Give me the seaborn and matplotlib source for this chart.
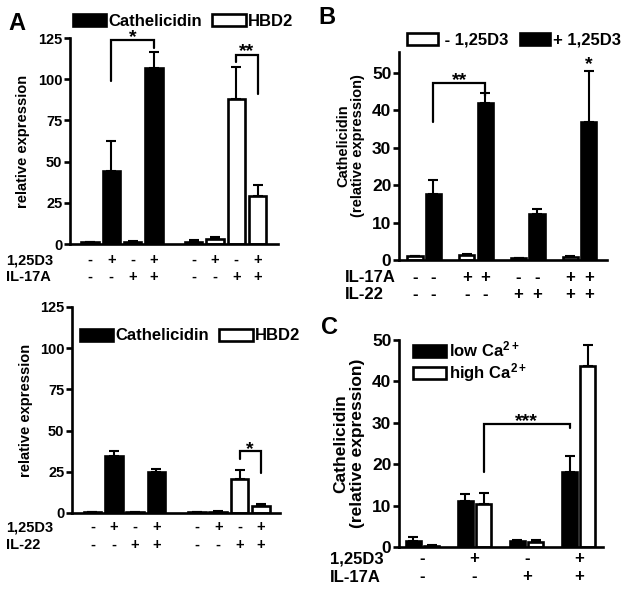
import numpy as np
import pandas as pd
import matplotlib
matplotlib.use("Agg")
import matplotlib.pyplot as plt
import seaborn as sns
from matplotlib.patches import Patch
from matplotlib.transforms import blended_transform_factory

# ---------------- data ----------------
a1_cath = [1.0, 44.0, 1.5, 107.0]
a1_cath_err = [0.3, 18.6, 0.3, 9.5]
a1_hbd2 = [1.5, 3.0, 88.0, 29.0]
a1_hbd2_err = [1.0, 1.5, 19.5, 7.0]
a1_d3 = ["-", "+", "-", "+", "-", "+", "-", "+"]
a1_il17a = ["-", "-", "+", "+", "-", "-", "+", "+"]

a2_cath = [0.6, 34.5, 0.4, 24.8]
a2_cath_err = [0.2, 3.3, 0.2, 2.0]
a2_hbd2 = [0.6, 0.6, 20.8, 4.5]
a2_hbd2_err = [0.2, 0.4, 5.3, 1.2]
a2_d3 = ["-", "+", "-", "+", "-", "+", "-", "+"]
a2_il22 = ["-", "-", "+", "+", "-", "-", "+", "+"]

b_minus = [1.0, 1.3, 0.5, 0.8]
b_minus_err = [0.2, 0.2, 0.1, 0.2]
b_plus = [17.6, 41.8, 12.3, 36.7]
b_plus_err = [3.8, 2.7, 1.2, 13.8]
b_il17a = ["-", "-", "+", "+", "-", "-", "+", "+"]
b_il22 = ["-", "-", "-", "-", "+", "+", "+", "+"]

c_low = [1.5, 11.2, 1.4, 18.2]
c_low_err = [0.8, 1.7, 0.2, 3.8]
c_high = [0.3, 10.5, 1.2, 43.6]
c_high_err = [0.1, 2.5, 0.4, 5.2]
c_d3 = ["-", "+", "-", "+"]
c_il17a = ["-", "-", "+", "+"]

# ---------------- style ----------------
sns.set_style("ticks")
plt.rcParams["font.family"] = ["Liberation Sans", "DejaVu Sans"]
plt.rcParams["font.weight"] = "bold"
plt.rcParams["mathtext.fontset"] = "custom"
plt.rcParams["mathtext.rm"] = "Liberation Sans:bold"
plt.rcParams["mathtext.bf"] = "Liberation Sans:bold"
plt.rcParams["mathtext.it"] = "Liberation Sans:bold"
for k in ["text.color", "axes.labelcolor", "xtick.color", "ytick.color", "axes.edgecolor"]:
    plt.rcParams[k] = "black"

W, H = 629, 592
fig = plt.figure(figsize=(W / 100, H / 100), dpi=100)
fig.patch.set_facecolor("white")

LW = 1.9


def px_axes(l, t, r, b):
    return fig.add_axes([l / W, 1 - b / H, (r - l) / W, (b - t) / H])


def fy(ypx):
    return 1 - ypx / H


def draw_bars(ax, pos, vals, errs, series, palette, width):
    df = pd.DataFrame({"pos": pos, "val": vals, "series": series})
    sns.barplot(data=df, x="pos", y="val", hue="series", palette=palette,
                native_scale=True, dodge=False, width=width, edgecolor="black",
                linewidth=LW, errorbar=None, legend=False, ax=ax, orient="x",
                saturation=1)
    ax.errorbar(df["pos"], df["val"], yerr=[np.zeros(len(df)), errs], fmt="none",
                ecolor="black", elinewidth=1.5, capsize=3.5, capthick=1.5, zorder=3)


def style(ax, xlim, ylim, yticks, fs):
    ax.set_xlim(*xlim)
    ax.set_ylim(*ylim)
    ax.set_yticks(yticks)
    ax.set_xticks([])
    ax.set_xlabel("")
    ax.set_facecolor("white")
    for s in ["top", "right"]:
        ax.spines[s].set_visible(False)
    for s in ["left", "bottom"]:
        ax.spines[s].set_linewidth(LW)
        ax.spines[s].set_color("black")
    ax.tick_params(axis="y", direction="out", length=4.5, width=LW, left=True,
                   pad=1, labelsize=fs, color="black")
    for lab in ax.get_yticklabels():
        lab.set_fontweight("bold")


def bracket(ax, x1, x2, ytop, yl, yr):
    ax.plot([x1, x1, x2, x2], [yl, ytop, ytop, yr], color="black", lw=1.6,
            solid_joinstyle="miter", clip_on=False, zorder=4)


def stars(ax, x, y, s, drop_px=4.3):
    # place so that the visible glyph centre sits at y (data units)
    off = ax.transData.inverted().transform((0, 0))[1] - ax.transData.inverted().transform((0, drop_px))[1]
    ax.text(x, y + off, s, ha="center", va="center", fontsize=14, clip_on=False)


def conditions(ax, xs, labels, ypx, fs):
    tr = blended_transform_factory(ax.transData, fig.transFigure)
    for x, s in zip(xs, labels):
        ax.text(x, fy(ypx), s, transform=tr, ha="center", va="center",
                fontsize=fs, fontweight="bold")


def row_label(xpx, ypx, s, fs):
    fig.text(xpx / W, fy(ypx), s, ha="left", va="center", fontsize=fs, fontweight="bold")


BW = 0.82

# ---------------- Panel A (top) ----------------
ax = px_axes(70, 38, 278, 244)
pal_a = {"Cathelicidin": "black", "HBD2": "white"}
pos_a = [0, 1, 2, 3] + [4.87 + i for i in range(4)]
draw_bars(ax, pos_a, a1_cath + a1_hbd2, a1_cath_err + a1_hbd2_err,
          ["Cathelicidin"] * 4 + ["HBD2"] * 4, pal_a, BW)
style(ax, (-0.94, 8.83), (0, 125), [0, 25, 50, 75, 100, 125], 10.5)
ax.set_ylabel("relative expression", fontsize=10.5, fontweight="bold")
ax.yaxis.set_label_coords(-0.19, 0.5)
bracket(ax, pos_a[1], pos_a[3], 124, 99, 119)
stars(ax, (pos_a[1] + pos_a[3]) / 2, 128, "*")
bracket(ax, pos_a[6], pos_a[7], 114.7, 110.6, 90.8)
stars(ax, (pos_a[6] + pos_a[7]) / 2, 119.5, "**")
conditions(ax, pos_a, a1_d3, 260, 10.5)
conditions(ax, pos_a, a1_il17a, 277, 10.5)
row_label(6, 260, "1,25D3", 10.5)
row_label(6, 277, "IL-17A", 10.5)
hA = [Patch(facecolor="black", edgecolor="black", lw=LW, label="Cathelicidin"),
      Patch(facecolor="white", edgecolor="black", lw=LW, label="HBD2")]
fig.legend(handles=hA, loc="center left", bbox_to_anchor=(73 / W, fy(21)), ncol=2,
           frameon=False, prop={"weight": "bold", "size": 12}, handlelength=2.0,
           handleheight=0.75, handletextpad=0.15, columnspacing=0.6, borderpad=0,
           borderaxespad=0)
fig.text(8 / W, fy(23.5), "A", fontsize=17, fontweight="bold", ha="left", va="center")

# ---------------- Panel A (bottom) ----------------
ax = px_axes(72, 307, 280, 513)
pos_a2 = [0, 1, 2, 3] + [4.9 + i for i in range(4)]
draw_bars(ax, pos_a2, a2_cath + a2_hbd2, a2_cath_err + a2_hbd2_err,
          ["Cathelicidin"] * 4 + ["HBD2"] * 4, pal_a, BW)
style(ax, (-0.96, 8.8), (0, 125), [0, 25, 50, 75, 100, 125], 10.5)
ax.set_ylabel("relative expression", fontsize=10.5, fontweight="bold")
ax.yaxis.set_label_coords(-0.187, 0.5)
bracket(ax, pos_a2[6], pos_a2[7], 37.6, 32.5, 24.5)
stars(ax, (pos_a2[6] + pos_a2[7]) / 2, 41.3, "*")
conditions(ax, pos_a2, a2_d3, 527, 10.5)
conditions(ax, pos_a2, a2_il22, 545, 10.5)
row_label(6, 527, "1,25D3", 10.5)
row_label(6, 545, "IL-22", 10.5)
fig.legend(handles=hA, loc="center left", bbox_to_anchor=(80 / W, fy(336)), ncol=2,
           frameon=False, prop={"weight": "bold", "size": 12}, handlelength=2.0,
           handleheight=0.75, handletextpad=0.15, columnspacing=0.6, borderpad=0,
           borderaxespad=0)

# ---------------- Panel B ----------------
ax = px_axes(399, 52, 607, 260)
pal_b = {"- 1,25D3": "white", "+ 1,25D3": "black"}
pos_b = [i * 2.8 + j for i in range(4) for j in range(2)]
vals_b = [v for pair in zip(b_minus, b_plus) for v in pair]
errs_b = [v for pair in zip(b_minus_err, b_plus_err) for v in pair]
ser_b = ["- 1,25D3", "+ 1,25D3"] * 4
draw_bars(ax, pos_b, vals_b, errs_b, ser_b, pal_b, BW)
style(ax, (-0.865, 10.38), (0, 55.5), [0, 10, 20, 30, 40, 50], 12.5)
ax.set_ylabel("Cathelicidin\n(relative expression)", fontsize=10.5, fontweight="bold",
              linespacing=1.1)
ax.yaxis.set_label_coords(-0.163, 0.548)
bracket(ax, pos_b[1], pos_b[3], 47.2, 36.8, 43.8)
stars(ax, (pos_b[1] + pos_b[3]) / 2, 48.9, "**")
stars(ax, pos_b[7], 53.4, "*")
conditions(ax, pos_b, b_il17a, 277, 12)
conditions(ax, pos_b, b_il22, 295, 12)
row_label(345, 277, "IL-17A", 12)
row_label(345, 295, "IL-22", 12)
hB = [Patch(facecolor="white", edgecolor="black", lw=LW, label=" - 1,25D3"),
      Patch(facecolor="black", edgecolor="black", lw=LW, label="+ 1,25D3")]
fig.legend(handles=hB, loc="center left", bbox_to_anchor=(407 / W, fy(40)), ncol=2,
           frameon=False, prop={"weight": "bold", "size": 12}, handlelength=1.85,
           handleheight=0.75, handletextpad=0.15, columnspacing=0.65, borderpad=0,
           borderaxespad=0)
fig.text(318 / W, fy(18), "B", fontsize=17, fontweight="bold", ha="left", va="center")

# ---------------- Panel C ----------------
ax = px_axes(399, 340, 603, 547)
pal_c = {"low": "black", "high": "white"}
pos_c = [i * 2.83 + j for i in range(4) for j in range(2)]
vals_c = [v for pair in zip(c_low, c_high) for v in pair]
errs_c = [v for pair in zip(c_low_err, c_high_err) for v in pair]
ser_c = ["low", "high"] * 4
draw_bars(ax, pos_c, vals_c, errs_c, ser_c, pal_c, BW)
style(ax, (-0.78, 10.31), (0, 50), [0, 10, 20, 30, 40, 50], 12.5)
ax.set_ylabel("Cathelicidin\n(relative expression)", fontsize=12.5, fontweight="bold",
              linespacing=1.1)
ax.yaxis.set_label_coords(-0.167, 0.5)
bracket(ax, pos_c[3], pos_c[6], 29.6, 18.2, 28.8)
stars(ax, (pos_c[3] + pos_c[6]) / 2, 31.3, "***")
centers_c = [(pos_c[2 * i] + pos_c[2 * i + 1]) / 2 for i in range(4)]
conditions(ax, centers_c, c_d3, 559, 12)
conditions(ax, centers_c, c_il17a, 577, 12)
row_label(330, 559, "1,25D3", 12)
row_label(330, 577, "IL-17A", 12)
hC = [Patch(facecolor="black", edgecolor="black", lw=LW, label=r"low Ca$^{\mathbf{2+}}$"),
      Patch(facecolor="white", edgecolor="black", lw=LW, label=r"high Ca$^{\mathbf{2+}}$")]
fig.legend(handles=hC, loc="center left", bbox_to_anchor=(413 / W, fy(362)), ncol=1,
           frameon=False, prop={"weight": "bold", "size": 12}, handlelength=2.0,
           handleheight=0.75, handletextpad=0.15, labelspacing=0.1, borderpad=0,
           borderaxespad=0)
fig.text(321 / W, fy(327.5), "C", fontsize=17, fontweight="bold", ha="left", va="center")

fig.savefig("out.png", dpi=100, facecolor="white")
